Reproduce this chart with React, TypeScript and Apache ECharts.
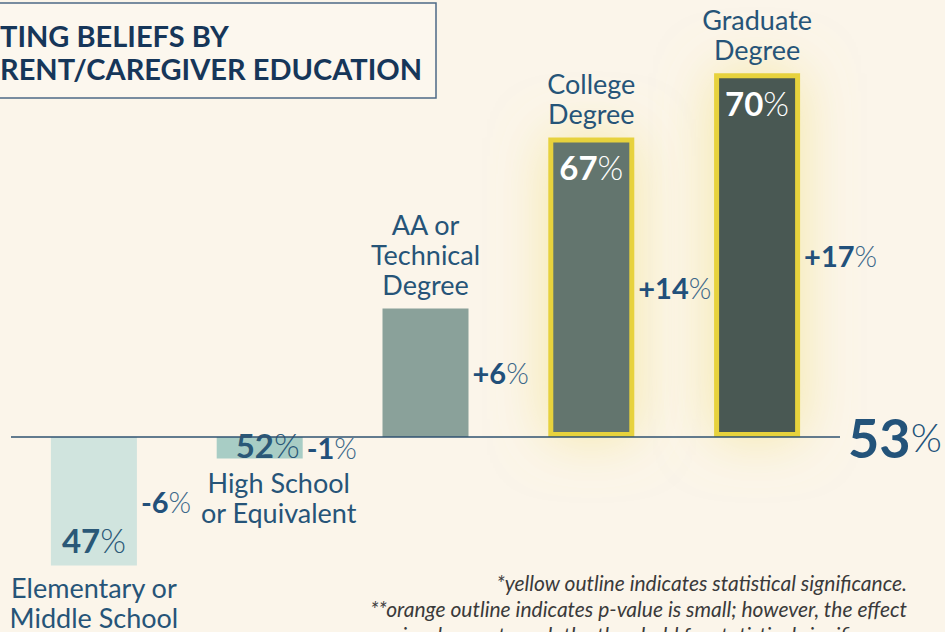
import React, { useEffect, useRef } from "react";
import * as echarts from "echarts";

const categories = [
  "Elementary or\nMiddle School",
  "High School\nor Equivalent",
  "AA or\nTechnical\nDegree",
  "College\nDegree",
  "Graduate\nDegree",
];
const baselinePercent = 53;
const percentValues = [47, 52, 59, 67, 70];
const differences = [-6, -1, 6, 14, 17];
const significant = [false, false, false, true, true];
const showValueLabel = [true, true, false, true, true];
const barColors = ["#D0E4DE", "#A8CDC5", "#8AA19A", "#63746E", "#4A5853"];
const footnotes = [
  "*yellow outline indicates statistical significance.",
  "**orange outline indicates p-value is small; however, the effect",
  "size does not reach the threshold for statistical significance.",
];
const titleLines = ["TING BELIEFS BY", "RENT/CAREGIVER EDUCATION"];

const NAVY = "#265478";
const FONT = "Lato, 'Open Sans', sans-serif";

function signed(d: number) {
  return (d > 0 ? "+" : "") + d;
}

export default function App() {
  const ref = useRef<HTMLDivElement>(null);
  useEffect(() => {
    document.body.style.margin = "0";
    const chart = echarts.init(ref.current!, undefined, { renderer: "svg" });

    const mainData = differences.map((d, i) => ({
      value: d,
      itemStyle: significant[i]
        ? {
            color: barColors[i],
            borderColor: "#E7D23C",
            borderWidth: 5,
            shadowBlur: 55,
            shadowColor: "rgba(240, 222, 110, 0.55)",
          }
        : { color: barColors[i] },
    }));

    const valueData = differences.map((d, i) => ({
      value: d,
      label: {
        show: showValueLabel[i],
        position: d < -2 ? "insideBottom" : d < 0 ? "inside" : "insideTop",
        distance: d < 0 ? 9 : 13,
        offset: d < 0 && d >= -2 ? [8, -3] : [0, 0],
        formatter: `{n|${percentValues[i]}}{p|%}`,
        rich: {
          n: {
            fontFamily: FONT,
            fontWeight: "bold",
            fontSize: 33,
            color: i >= 3 ? "#FFFFFF" : "#2A5877",
          },
          p: {
            fontFamily: FONT,
            fontWeight: 300,
            fontSize: 33,
            color: i >= 3 ? "#FFFFFF" : "#2A5877",
          },
        },
      },
    }));

    const nameData = differences.map((d, i) => ({
      value: d,
      label: {
        show: true,
        position: d < 0 ? "bottom" : "top",
        distance: d < 0 ? 7 : 9,
        offset: i === 1 ? [19, 2] : [0, 0],
        formatter: categories[i],
        fontFamily: FONT,
        fontSize: 27,
        lineHeight: 30,
        color: NAVY,
        align: "center",
      },
    }));

    chart.setOption({
      animation: false,
      backgroundColor: "#FBF5EA",
      grid: {
        left: 11,
        right: 105,
        top: 9,
        bottom: 2.4,
        containLabel: false,
        outerBoundsMode: "none",
      },
      xAxis: {
        type: "category",
        data: categories,
        axisLine: { show: false },
        axisTick: { show: false },
        axisLabel: { show: false },
        splitLine: { show: false },
      },
      yAxis: {
        type: "value",
        min: -9,
        max: 20,
        show: false,
        splitLine: { show: false },
      },
      series: [
        {
          type: "bar",
          barWidth: 86,
          barGap: "-100%",
          data: mainData,
          z: 2,
          label: {
            show: true,
            position: "right",
            distance: 4,
            formatter: (p: any) => `{n|${signed(p.value)}}{p|%}`,
            rich: {
              n: {
                fontFamily: FONT,
                fontWeight: "bold",
                fontSize: 29,
                color: "#22507A",
              },
              p: {
                fontFamily: FONT,
                fontWeight: 300,
                fontSize: 29,
                color: "#3B6789",
              },
            },
          },
          markLine: {
            silent: true,
            symbol: "none",
            lineStyle: { color: "#2F5271", width: 1.5, type: "solid" },
            label: {
              show: true,
              position: "end",
              distance: 8,
              formatter: `{n|${baselinePercent}}{p|%}`,
              rich: {
                n: {
                  fontFamily: FONT,
                  fontWeight: "bold",
                  fontSize: 54,
                  color: "#23537A",
                },
                p: {
                  fontFamily: FONT,
                  fontWeight: 300,
                  fontSize: 40,
                  color: "#23537A",
                },
              },
            },
            data: [{ yAxis: 0 }],
          },
        },
        {
          type: "bar",
          barWidth: 86,
          barGap: "-100%",
          silent: true,
          z: 3,
          itemStyle: { color: "transparent" },
          data: valueData,
        },
        {
          type: "bar",
          barWidth: 86,
          barGap: "-100%",
          silent: true,
          z: 3,
          itemStyle: { color: "transparent" },
          data: nameData,
        },
      ],
      graphic: [
        {
          type: "rect",
          shape: { x: -2, y: 3, width: 438, height: 95 },
          style: { fill: "#FCF7EE", stroke: "#4E6A87", lineWidth: 1.5 },
          z: 10,
        },
        ...titleLines.map((t, i) => ({
          type: "text",
          x: 0,
          y: 35 + i * 33,
          z: 11,
          style: {
            text: t,
            fontFamily: FONT,
            fontWeight: "bold",
            fontSize: 29,
            fill: "#163659",
            verticalAlign: "middle",
            align: "left",
          },
        })),
        ...footnotes.map((t, i) => ({
          type: "text",
          x: 907,
          y: 582 + i * 26,
          z: 11,
          style: {
            text: t,
            fontFamily: FONT,
            fontStyle: "italic",
            fontSize: 21,
            fill: "#3A3A3A",
            verticalAlign: "middle",
            align: "right",
          },
        })),
      ],
    });
    return () => chart.dispose();
  }, []);
  return <div ref={ref} style={{ width: 945, height: 632 }} />;
}
